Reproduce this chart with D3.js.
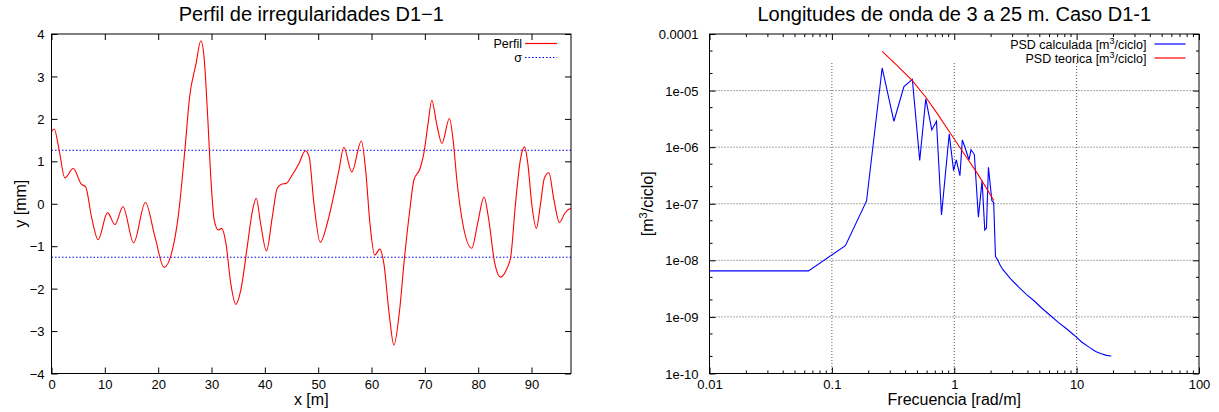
<!DOCTYPE html>
<html>
<head>
<meta charset="utf-8">
<script src="https://cdn.jsdelivr.net/npm/d3@7/dist/d3.min.js"></script>
<style>
    body { margin: 0; background: #fff; }
    svg text { font-family: "Liberation Sans", Arial, sans-serif; fill: #000; }
</style>
</head>
<body>
<div id="chart"></div>
<script>

// ---- Perfil de irregularidades (left) ----
const perfilX = [0, 0.5, 1.44, 2.5, 4.06, 5.6, 6.4, 7.5, 8.75, 10.5, 11.9, 13.4, 15.4, 17.6, 19.4, 21.1,
    22.5, 23.75, 25.0, 25.9, 27.1, 28.0, 28.6, 29.25, 29.9, 30.5, 31.3, 31.9, 32.7, 33.6, 34.55, 35.5,
    36.7, 37.7, 38.4, 39.2, 40.3, 41.4, 42.3, 43.1, 44.0, 45.1, 46.4, 47.6, 48.3, 49.2, 50.4, 51.7,
    52.6, 53.9, 54.8, 56.3, 58.1, 58.9, 59.7, 60.6, 61.55, 62.3, 63.3, 64.2, 65.2, 66.2, 67.1, 67.95,
    69.1, 69.8, 70.6, 71.3, 72.2, 73.2, 74.6, 75.3, 76.0, 77.1, 78.8, 79.9, 81.1, 81.9, 83.1, 84.2,
    85.4, 86.1, 87.0, 87.9, 88.7, 89.3, 90.1, 90.9, 91.7, 92.4, 93.25, 94.2, 95.25, 96.2, 97.0, 97.4];
const perfilY = [1.70, 1.76, 1.26, 0.61, 0.83, 0.46, 0.40, -0.31, -0.85, -0.21, -0.49, -0.07, -0.92, 0.03, -0.78, -1.50,
    -1.17, -0.31, 1.26, 2.52, 3.30, 3.84, 3.46, 2.13, 0.56, -0.38, -0.62, -0.58, -0.93, -1.87, -2.37, -2.03,
    -1.01, -0.15, 0.13, -0.46, -1.11, -0.31, 0.36, 0.46, 0.48, 0.67, 0.95, 1.25, 1.11, 0.01, -0.91, -0.46,
    0.01, 0.79, 1.33, 0.75, 1.48, 0.79, -0.46, -1.21, -1.07, -1.40, -2.58, -3.33, -2.58, -1.25, -0.23, 0.56,
    0.83, 1.18, 1.89, 2.44, 1.89, 1.42, 2.01, 1.50, 0.56, -0.46, -1.05, -0.46, 0.16, -0.31, -1.40, -1.73,
    -1.52, -1.25, 0.01, 1.03, 1.34, 0.95, -0.07, -0.58, 0.01, 0.60, 0.73, 0.09, -0.44, -0.23, -0.13, -0.11];
const sigma = 1.26;
const perfilXMax = 97.4;
const perfilXTicks = [0, 10, 20, 30, 40, 50, 60, 70, 80, 90];
const perfilYTicks = [-4, -3, -2, -1, 0, 1, 2, 3, 4];
const perfilYLabels = ["\u22124", "\u22123", "\u22122", "\u22121", "0", "1", "2", "3", "4"];

// ---- PSD (right) ----
const freqCalc = [0.01, 0.0644, 0.129, 0.192, 0.2576, 0.3213, 0.3882, 0.4546, 0.5222, 0.5852, 0.6554, 0.7157,
    0.7867, 0.9097, 0.9875, 1.0385, 1.1131, 1.1635, 1.2236, 1.3197, 1.3709, 1.4599, 1.5753, 1.6881,
    1.7757, 1.8323, 1.9027, 2.03, 2.10, 2.1727, 2.2708, 2.35, 2.49, 2.89, 3.35, 3.88, 4.51, 5.23,
    6.07, 7.04, 8.17, 9.5, 11.0, 12.7, 14.3, 15.9, 17.5, 19.2];
const psdCalc = [6.5e-9, 6.5e-9, 1.82e-8, 1.12e-7, 2.51e-5, 2.87e-6, 1.18e-5, 1.58e-5, 5.8e-7, 7.13e-6, 2.02e-6, 2.87e-6,
    6.34e-8, 1.71e-6, 3.85e-7, 5.94e-7, 3.14e-7, 1.34e-6, 9.95e-7, 5.94e-7, 9.06e-7, 7.40e-7, 5.77e-8, 2.56e-7,
    3.44e-8, 3.73e-8, 4.42e-7, 1.13e-7, 1.05e-7, 1.16e-8, 1.01e-8, 8.5e-9, 6.9e-9, 4.7e-9, 3.39e-9, 2.51e-9,
    1.91e-9, 1.41e-9, 1.07e-9, 8.1e-10, 6.3e-10, 4.8e-10, 3.6e-10, 2.9e-10, 2.45e-10, 2.24e-10, 2.09e-10, 2.04e-10];
const freqTeo = [0.2576, 0.342, 0.4546, 0.5852, 0.7295, 0.8815, 1.065, 1.287, 1.555, 1.879, 2.1054];
const psdTeo = [4.95e-5, 2.77e-5, 1.50e-5, 7.62e-6, 3.87e-6, 2.10e-6, 1.14e-6, 6.19e-7, 3.37e-7, 1.71e-7, 1.14e-7];
const psdXTicks = [0.01, 0.1, 1, 10, 100];
const psdXLabels = ["0.01", "0.1", "1", "10", "100"];
const psdYTicks = [1e-10, 1e-9, 1e-8, 1e-7, 1e-6, 1e-5, 1e-4];
const psdYLabels = ["1e-10", "1e-09", "1e-08", "1e-07", "1e-06", "1e-05", "0.0001"];


let svg = d3.select("#chart").append("svg")
    .attr("width", 1219)
    .attr("height", 412);

// inward ticks on all four sides, labels only bottom/left
function drawFrame(g, x, y, box, opts) {
    let tick = 6;

    let bottom = d3.axisBottom(x).tickValues(opts.xTicks).tickSizeInner(-tick).tickSizeOuter(0)
        .tickFormat((d, i) => opts.xLabels[i]);
    let top = d3.axisTop(x).tickValues(opts.xTicks).tickSizeInner(-tick).tickSizeOuter(0).tickFormat("");
    let left = d3.axisLeft(y).tickValues(opts.yTicks).tickSizeInner(-tick).tickSizeOuter(0)
        .tickFormat((d, i) => opts.yLabels[i]);
    let right = d3.axisRight(y).tickValues(opts.yTicks).tickSizeInner(-tick).tickSizeOuter(0).tickFormat("");

    let gb = g.append("g").attr("transform", "translate(0," + box.bottom + ")").call(bottom);
    g.append("g").attr("transform", "translate(0," + box.top + ")").call(top);
    let gl = g.append("g").attr("transform", "translate(" + box.left + ",0)").call(left);
    g.append("g").attr("transform", "translate(" + box.right + ",0)").call(right);

    g.selectAll(".domain").remove();
    g.selectAll(".tick line").attr("stroke", "#000");

    gb.selectAll("text")
        .attr("dy", null)
        .attr("y", 15)
        .attr("font-size", 13)
        .attr("font-family", null);
    gl.selectAll("text")
        .attr("dy", "0.35em")
        .attr("x", -opts.yPad)
        .attr("font-size", 13)
        .attr("font-family", null);

    // minor ticks
    if (opts.xMinor) {
        opts.xMinor.forEach(v => {
            [box.bottom, box.top].forEach((yy, k) => {
                g.append("line")
                    .attr("x1", x(v)).attr("x2", x(v))
                    .attr("y1", yy).attr("y2", k === 0 ? yy - 3 : yy + 3)
                    .attr("stroke", "#000");
            });
        });
    }
    if (opts.yMinor) {
        opts.yMinor.forEach(v => {
            [box.left, box.right].forEach((xx, k) => {
                g.append("line")
                    .attr("y1", y(v)).attr("y2", y(v))
                    .attr("x1", xx).attr("x2", k === 0 ? xx + 3 : xx - 3)
                    .attr("stroke", "#000");
            });
        });
    }
}

function drawBorder(g, box) {
    g.append("rect")
        .attr("x", box.left).attr("y", box.top)
        .attr("width", box.right - box.left)
        .attr("height", box.bottom - box.top)
        .attr("fill", "none")
        .attr("stroke", "#000")
        .attr("stroke-width", 1);
}

function drawLegend(g, items, xEnd, yStart) {
    items.forEach((it, i) => {
        let yy = yStart + i * 14;
        let t = g.append("text")
            .attr("x", xEnd - it.gap)
            .attr("y", yy + 4.5)
            .attr("text-anchor", "end")
            .attr("font-size", 12.5);
        it.text(t);
        g.append("line")
            .attr("x1", xEnd).attr("x2", xEnd + it.len)
            .attr("y1", yy).attr("y2", yy)
            .attr("stroke", it.color)
            .attr("stroke-width", 1.2)
            .attr("stroke-dasharray", it.dash);
    });
}

// ================= left: profile =================
{
    let box = {left: 51.5, right: 571, top: 34, bottom: 373.5};
    let g = svg.append("g");

    let x = d3.scaleLinear().domain([0, perfilXMax]).range([box.left, box.right]);
    let y = d3.scaleLinear().domain([-4, 4]).range([box.bottom, box.top]);

    drawFrame(g, x, y, box, {
        xTicks: perfilXTicks, xLabels: perfilXTicks.map(String),
        yTicks: perfilYTicks, yLabels: perfilYLabels, yPad: 7
    });

    // sigma lines
    [sigma, -sigma].forEach(s => {
        g.append("line")
            .attr("x1", box.left).attr("x2", box.right)
            .attr("y1", y(s)).attr("y2", y(s))
            .attr("stroke", "#0000ff")
            .attr("stroke-width", 1)
            .attr("stroke-dasharray", "1.5,2");
    });

    let pts = perfilX.map((d, i) => [d, perfilY[i]]);
    let line = d3.line()
        .x(d => x(d[0]))
        .y(d => y(d[1]))
        .curve(d3.curveMonotoneX);

    g.append("path")
        .datum(pts)
        .attr("d", line)
        .attr("fill", "none")
        .attr("stroke", "#ff0000")
        .attr("stroke-width", 1.1);

    drawBorder(g, box);

    drawLegend(g, [
        {text: t => t.text("Perfil"), color: "#ff0000", dash: null, gap: 3, len: 32},
        {text: t => t.text("\u03c3"), color: "#0000ff", dash: "1.5,2", gap: 3, len: 32}
    ], 525, 43.5);

    // title and axis labels
    svg.append("text")
        .attr("x", (box.left + box.right) / 2)
        .attr("y", 21)
        .attr("text-anchor", "middle")
        .attr("font-size", 20)
        .text("Perfil de irregularidades D1\u22121");

    svg.append("text")
        .attr("x", (box.left + box.right) / 2)
        .attr("y", 405)
        .attr("text-anchor", "middle")
        .attr("font-size", 16)
        .text("x [m]");

    svg.append("text")
        .attr("transform", "translate(26," + (box.top + box.bottom) / 2 + ") rotate(-90)")
        .attr("text-anchor", "middle")
        .attr("font-size", 16)
        .text("y [mm]");
}

// ================= right: PSD =================
{
    let box = {left: 709.5, right: 1199, top: 34, bottom: 373.5};
    let g = svg.append("g");

    let x = d3.scaleLog().domain([0.01, 100]).range([box.left, box.right]);
    let y = d3.scaleLog().domain([1e-10, 1e-4]).range([box.bottom, box.top]);

    // minor ticks: 2..9 on x, 2 and 5 on y
    let xMinor = [];
    [0.01, 0.1, 1, 10].forEach(dec => d3.range(2, 10).forEach(m => xMinor.push(dec * m)));
    let yMinor = [];
    psdYTicks.slice(0, -1).forEach(dec => [2, 5].forEach(m => yMinor.push(dec * m)));

    // grid (dotted), vertical lines stop under the key
    let grid = g.append("g")
        .attr("stroke", "#555")
        .attr("stroke-width", 1)
        .attr("stroke-dasharray", "1,2");
    psdXTicks.slice(1, -1).forEach(v => {
        grid.append("line")
            .attr("x1", x(v)).attr("x2", x(v))
            .attr("y1", 63).attr("y2", box.bottom);
    });
    psdYTicks.slice(1, -1).forEach(v => {
        grid.append("line")
            .attr("x1", box.left).attr("x2", box.right)
            .attr("y1", y(v)).attr("y2", y(v));
    });

    drawFrame(g, x, y, box, {
        xTicks: psdXTicks, xLabels: psdXLabels,
        yTicks: psdYTicks, yLabels: psdYLabels, yPad: 11,
        xMinor: xMinor, yMinor: yMinor
    });

    let line = d3.line()
        .x(d => x(d[0]))
        .y(d => y(d[1]));

    g.append("path")
        .datum(freqCalc.map((d, i) => [d, psdCalc[i]]))
        .attr("d", line)
        .attr("fill", "none")
        .attr("stroke", "#0000ff")
        .attr("stroke-width", 1.1);

    g.append("path")
        .datum(freqTeo.map((d, i) => [d, psdTeo[i]]))
        .attr("d", line)
        .attr("fill", "none")
        .attr("stroke", "#ff0000")
        .attr("stroke-width", 1.1);

    drawBorder(g, box);

    let withSup = (t, lead) => {
        t.append("tspan").text(lead + " [m");
        t.append("tspan").attr("dy", -4.5).attr("font-size", 9).text("3");
        t.append("tspan").attr("dy", 4.5).text("/ciclo]");
    };
    drawLegend(g, [
        {text: t => withSup(t, "PSD calculada"), color: "#0000ff", dash: null, gap: 8, len: 31},
        {text: t => withSup(t, "PSD teorica"), color: "#ff0000", dash: null, gap: 8, len: 31}
    ], 1154.5, 44);

    svg.append("text")
        .attr("x", (box.left + box.right) / 2)
        .attr("y", 21)
        .attr("text-anchor", "middle")
        .attr("font-size", 20)
        .text("Longitudes de onda de 3 a 25 m. Caso D1-1");

    svg.append("text")
        .attr("x", (box.left + box.right) / 2)
        .attr("y", 405)
        .attr("text-anchor", "middle")
        .attr("font-size", 16)
        .text("Frecuencia [rad/m]");

    let yl = svg.append("text")
        .attr("transform", "translate(653," + (box.top + box.bottom) / 2 + ") rotate(-90)")
        .attr("text-anchor", "middle")
        .attr("font-size", 16);
    yl.append("tspan").text("[m");
    yl.append("tspan").attr("dy", -6).attr("font-size", 11).text("3");
    yl.append("tspan").attr("dy", 6).text("/ciclo]");
}

</script>
</body>
</html>
